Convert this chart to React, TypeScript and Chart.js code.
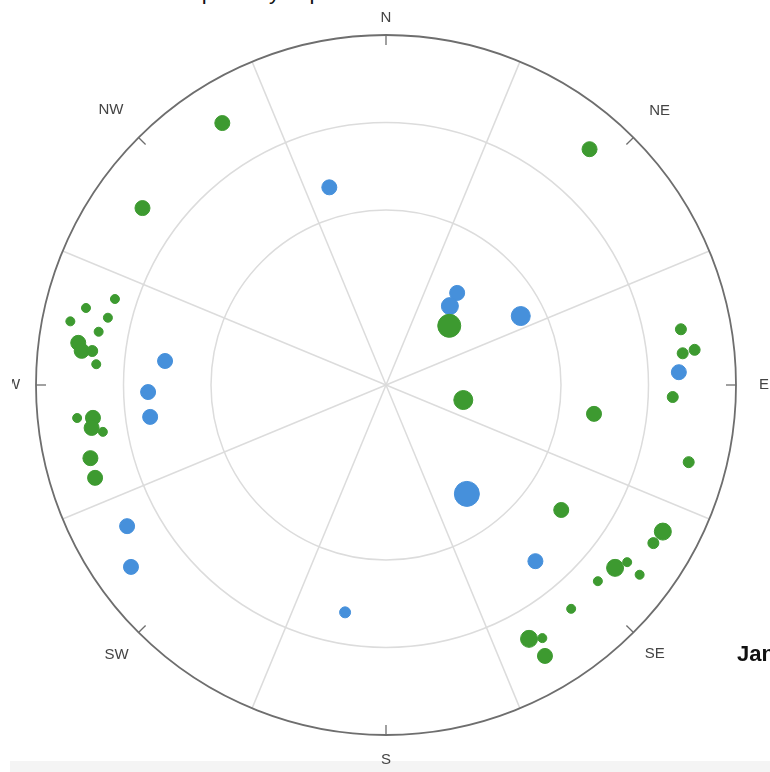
import React, { useEffect, useRef } from 'react';
import Chart from 'chart.js/auto';

// Compass / scale definitions
const COMPASS_LABELS = ['N', 'NE', 'E', 'SE', 'S', 'SW', 'W', 'NW'];
const COMPASS_ANGLES = [0, 45, 90, 135, 180, 225, 270, 315];
const SECTOR_EDGES = [22.5, 67.5, 112.5, 157.5, 202.5, 247.5, 292.5, 337.5];
const RING_VALUES = [2, 3];
const RADIUS_MAX = 4;

// Green observations: aspect (deg), elevation band distance, marker size
const GREEN_ANGLE = [328, 306, 40.8, 46.9, 101.0, 97.9, 125.5, 79.3, 83.9, 83.5, 92.4, 104.3, 117.9, 120.6, 128.6, 126.3, 126.8, 132.8, 140.4, 150.6, 148.3, 149.6, 287.6, 284.4, 281.4, 283.6, 280.5, 277.8, 276.4, 276.6, 274.1, 263.9, 263.6, 261.7, 260.6, 256.1, 252.3];
const GREEN_DIST = [3.53, 3.44, 3.56, 0.99, 0.90, 2.40, 2.46, 3.43, 3.41, 3.55, 3.28, 3.57, 3.58, 3.55, 3.35, 3.42, 3.62, 3.30, 3.32, 3.33, 3.40, 3.59, 3.25, 3.54, 3.68, 3.27, 3.34, 3.55, 3.50, 3.38, 3.32, 3.55, 3.37, 3.40, 3.28, 3.48, 3.49];
const GREEN_SIZE = [8, 8, 8, 12, 10, 8, 8, 6, 6, 6, 6, 6, 9, 6, 9, 5, 5, 5, 5, 9, 5, 8, 5, 5, 5, 5, 5, 8, 8, 6, 5, 5, 8, 8, 5, 8, 8];

// Blue observations
const BLUE_ANGLE = [344, 37.7, 39.0, 62.9, 143.4, 139.7, 190.2, 87.5, 241.4, 234.5, 276.2, 268.3, 262.3];
const BLUE_DIST = [2.35, 1.33, 1.16, 1.73, 1.55, 2.64, 2.64, 3.35, 3.37, 3.58, 2.54, 2.72, 2.72];
const BLUE_SIZE = [8, 8, 9, 10, 13, 8, 6, 8, 8, 8, 8, 8, 8];

const GREEN = '#3d9a30';
const BLUE = '#4690db';

// label distance from centre (px), per compass label
const LABEL_DIST = [367, 387, 378, 380, 375, 381, 373, 389];

function toPoints(angles: number[], dists: number[], sizes: number[]) {
  return angles.map((a, i) => {
    const t = (a * Math.PI) / 180;
    return { x: dists[i] * Math.sin(t), y: dists[i] * Math.cos(t), r: sizes[i] - 0.5 };
  });
}

const polarGrid = {
  id: 'polarGrid',
  beforeDatasetsDraw(chart: any) {
    const xs = chart.scales.x;
    const ys = chart.scales.y;
    const ctx = chart.ctx;
    const cx = xs.getPixelForValue(0);
    const cy = ys.getPixelForValue(0);
    const R = xs.getPixelForValue(RADIUS_MAX) - cx;
    ctx.save();
    ctx.strokeStyle = '#dcdcdc';
    ctx.lineWidth = 1.5;
    RING_VALUES.forEach((v) => {
      const r = xs.getPixelForValue(v) - cx;
      ctx.beginPath();
      ctx.arc(cx, cy, r, 0, Math.PI * 2);
      ctx.stroke();
    });
    SECTOR_EDGES.forEach((a) => {
      const t = (a * Math.PI) / 180;
      ctx.beginPath();
      ctx.moveTo(cx, cy);
      ctx.lineTo(cx + R * Math.sin(t), cy - R * Math.cos(t));
      ctx.stroke();
    });
    ctx.strokeStyle = '#6e6e6e';
    ctx.lineWidth = 1.8;
    ctx.beginPath();
    ctx.arc(cx, cy, R, 0, Math.PI * 2);
    ctx.stroke();
    ctx.lineWidth = 1.3;
    COMPASS_ANGLES.forEach((a) => {
      const t = (a * Math.PI) / 180;
      ctx.beginPath();
      ctx.moveTo(cx + R * Math.sin(t), cy - R * Math.cos(t));
      ctx.lineTo(cx + (R - 10) * Math.sin(t), cy - (R - 10) * Math.cos(t));
      ctx.stroke();
    });
    ctx.beginPath();
    ctx.rect(12, 0, chart.width, chart.height);
    ctx.clip();
    ctx.fillStyle = '#444';
    ctx.font = '15px "Liberation Sans Narrow", "Liberation Sans", Arial, sans-serif';
    ctx.textAlign = 'center';
    ctx.textBaseline = 'middle';
    COMPASS_LABELS.forEach((lab, i) => {
      const a = COMPASS_ANGLES[i];
      const t = (a * Math.PI) / 180;
      const d = LABEL_DIST[i];
      ctx.fillText(lab, cx + d * Math.sin(t), cy - d * Math.cos(t));
    });
    ctx.restore();
  },
};

export default function App() {
  const ref = useRef<HTMLCanvasElement | null>(null);
  useEffect(() => {
    if (!ref.current) return;
    const chart = new Chart(ref.current, {
      type: 'bubble',
      data: {
        datasets: [
          {
            label: 'green',
            data: toPoints(GREEN_ANGLE, GREEN_DIST, GREEN_SIZE),
            backgroundColor: GREEN,
            borderColor: GREEN,
            borderWidth: 1,
            clip: false,
          } as any,
          {
            label: 'blue',
            data: toPoints(BLUE_ANGLE, BLUE_DIST, BLUE_SIZE),
            backgroundColor: BLUE,
            borderColor: BLUE,
            borderWidth: 1,
            clip: false,
          } as any,
        ],
      },
      options: {
        animation: false,
        responsive: true,
        maintainAspectRatio: false,
        events: [],
        layout: { padding: { left: 36, top: 35, right: 34, bottom: 37 } },
        plugins: { legend: { display: false }, tooltip: { enabled: false }, title: { display: false } },
        scales: {
          x: { type: 'linear', min: -RADIUS_MAX, max: RADIUS_MAX, display: false },
          y: { type: 'linear', min: -RADIUS_MAX, max: RADIUS_MAX, display: false },
        },
      },
      plugins: [polarGrid],
    });
    return () => chart.destroy();
  }, []);

  return (
    <div style={{ position: 'absolute', left: 0, top: 0, width: 770, height: 772, overflow: 'hidden', background: '#fff' }}>
      <div style={{ position: 'absolute', left: 0, top: -21, whiteSpace: 'nowrap', font: '22px Arial, "Liberation Sans", sans-serif', color: '#111' }}>
        Recent avalanche reports by aspect and elevation
      </div>
      <div style={{ position: 'absolute', left: 10, right: 0, top: 761, height: 11, background: '#f4f4f4' }} />
      <div style={{ position: 'absolute', left: 0, top: 0, width: 770, height: 772 }}>
        <canvas ref={ref} />
      </div>
      <div style={{ position: 'absolute', left: 737, top: 641, whiteSpace: 'nowrap', font: 'bold 22px Arial, "Liberation Sans", sans-serif', color: '#111' }}>
        January
      </div>
    </div>
  );
}
